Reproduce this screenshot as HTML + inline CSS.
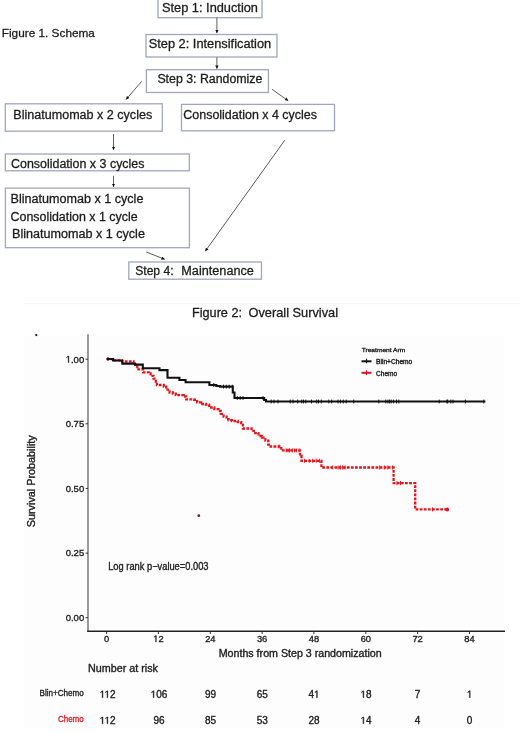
<!DOCTYPE html>
<html><head><meta charset="utf-8">
<style>
html,body{margin:0;padding:0;background:#fff;width:520px;height:733px;overflow:hidden}
svg{display:block;will-change:transform}
text{font-family:"Liberation Sans",sans-serif}
.c{fill:#1c1c1c;font-size:12px;stroke:#1c1c1c;stroke-width:0.28px}
.p{fill:#222;stroke:#222;stroke-width:0.35px}
.h1{fill-opacity:0;stroke-opacity:0}
</style></head><body>
<svg width="520" height="733" viewBox="0 0 520 733">
<defs>
<marker id="ah" viewBox="0 0 10 10" refX="10" refY="5" markerWidth="3.4" markerHeight="3.4" orient="auto" markerUnits="userSpaceOnUse"><path d="M0,0 L10,5 L0,10 z" fill="#111"/></marker>
</defs>
<rect x="24" y="336" width="480" height="392" fill="#fdfdfd"/>
<!-- FIGURE 1 -->
<g class="c">
<text x="1.8" y="36.9" textLength="93.1" lengthAdjust="spacingAndGlyphs" style="font-size:11.6px">Figure 1. Schema</text>
</g>
<g fill="none" stroke="#a0a7bc" stroke-width="1.3">
<rect x="158" y="-5" width="104" height="22.7"/>
<rect x="146" y="34.5" width="131" height="22.5"/>
<rect x="146.4" y="69.7" width="122" height="22.8"/>
<rect x="5.3" y="103.8" width="157" height="27.4"/>
<rect x="181.5" y="104.4" width="153" height="26.4"/>
<rect x="5.3" y="154" width="184" height="16.8"/>
<rect x="5.4" y="188.1" width="184" height="59.6"/>
<rect x="128.8" y="262" width="132.7" height="17.2"/>
</g>
<g stroke="#5e5e5e" stroke-width="1" fill="none" marker-end="url(#ah)">
<line x1="216.9" y1="17.7" x2="216.9" y2="33.2"/>
<line x1="216.9" y1="57.3" x2="216.9" y2="68.8"/>
<line x1="141.7" y1="81.3" x2="126" y2="99.6"/>
<line x1="271.9" y1="89.2" x2="288.3" y2="100.8"/>
<line x1="113.5" y1="134" x2="113.5" y2="150"/>
<line x1="113.5" y1="176" x2="113.5" y2="187"/>
<line x1="146.2" y1="252" x2="164.8" y2="259.3"/>
<line x1="284.8" y1="140.2" x2="205.2" y2="251.3"/>
</g>
<g class="c">
<text x="162.0" y="11.5" textLength="96.0" lengthAdjust="spacingAndGlyphs">Step 1: Induction</text>
<text x="148.7" y="47.5" textLength="122.5" lengthAdjust="spacingAndGlyphs">Step 2: Intensification</text>
<text x="157.4" y="83.2" textLength="105.0" lengthAdjust="spacingAndGlyphs">Step 3: Randomize</text>
<text x="13.3" y="119.4" textLength="138.9" lengthAdjust="spacingAndGlyphs">Blinatumomab x 2 cycles</text>
<text x="183.3" y="119.4" textLength="133.7" lengthAdjust="spacingAndGlyphs">Consolidation x 4 cycles</text>
<text x="11.0" y="167.6" textLength="133.5" lengthAdjust="spacingAndGlyphs">Consolidation x 3 cycles</text>
<text x="10.5" y="202.7" textLength="132.9" lengthAdjust="spacingAndGlyphs">Blinatumomab x 1 cycle</text>
<text x="10.5" y="221.2" textLength="127.1" lengthAdjust="spacingAndGlyphs">Consolidation x 1 cycle</text>
<text x="12.0" y="238.3" textLength="132.9" lengthAdjust="spacingAndGlyphs">Blinatumomab x 1 cycle</text>
<text x="135.2" y="275" textLength="38.4" lengthAdjust="spacingAndGlyphs">Step 4:</text><text x="181.3" y="275" textLength="72.6" lengthAdjust="spacingAndGlyphs">Maintenance</text>
<text x="192" y="317.3" textLength="50" lengthAdjust="spacingAndGlyphs" style="font-size:12.2px">Figure 2:</text><text x="248.5" y="317.3" textLength="89.5" lengthAdjust="spacingAndGlyphs" style="font-size:12.2px">Overall Survival</text>
</g>
<!-- FIGURE 2 -->
<line x1="24" y1="303.7" x2="520" y2="303.7" stroke="#f5f5f5" stroke-width="1"/>
<circle cx="36.3" cy="335.1" r="1.1" fill="#111"/>
<!-- axes -->
<line x1="88" y1="334.2" x2="88" y2="632" stroke="#808080" stroke-width="1.6"/>
<line x1="87.2" y1="631.2" x2="505" y2="631.2" stroke="#222" stroke-width="1.6"/>
<g stroke="#333" stroke-width="1">
<line x1="85.6" y1="359.2" x2="88" y2="359.2"/>
<line x1="85.6" y1="423.8" x2="88" y2="423.8"/>
<line x1="85.6" y1="488.4" x2="88" y2="488.4"/>
<line x1="85.6" y1="553.1" x2="88" y2="553.1"/>
<line x1="85.6" y1="617.7" x2="88" y2="617.7"/>
<line x1="106.6" y1="631.2" x2="106.6" y2="634"/>
<line x1="158.4" y1="631.2" x2="158.4" y2="634"/>
<line x1="210.3" y1="631.2" x2="210.3" y2="634"/>
<line x1="262.1" y1="631.2" x2="262.1" y2="634"/>
<line x1="313.9" y1="631.2" x2="313.9" y2="634"/>
<line x1="365.8" y1="631.2" x2="365.8" y2="634"/>
<line x1="417.6" y1="631.2" x2="417.6" y2="634"/>
<line x1="469.5" y1="631.2" x2="469.5" y2="634"/>
</g>
<g class="p" style="font-size:9.5px" text-anchor="end">
<text x="84.2" y="362.5"><tspan class="h1">1</tspan>.00</text>
<text x="84.2" y="427.1">0.75</text>
<text x="84.2" y="491.7">0.50</text>
<text x="84.2" y="556.4">0.25</text>
<text x="84.2" y="621">0.00</text>
</g>
<g class="p" style="font-size:9.3px" text-anchor="middle">
<text x="106.6" y="642">0</text>
<text x="158.4" y="642"><tspan class="h1">1</tspan>2</text>
<text x="210.3" y="642">24</text>
<text x="262.1" y="642">36</text>
<text x="313.9" y="642">48</text>
<text x="365.8" y="642">60</text>
<text x="417.6" y="642">72</text>
<text x="469.5" y="642">84</text>
</g>
<text class="p" x="218.7" y="656.5" style="font-size:10.3px" textLength="163" lengthAdjust="spacingAndGlyphs">Months from Step 3 randomization</text>
<text class="p" transform="translate(34.8,527.2) rotate(-90)" x="0" y="0" style="font-size:10.2px" textLength="91.9" lengthAdjust="spacingAndGlyphs">Survival Probability</text>
<text class="p" x="108.2" y="569.8" style="font-size:10.3px" textLength="100.3" lengthAdjust="spacingAndGlyphs">Log rank p&#8722;value=0.003</text>
<!-- legend -->
<text class="p" x="361.7" y="351.8" style="font-size:6px" textLength="43.5" lengthAdjust="spacingAndGlyphs">Treatment Arm</text>
<line x1="361.5" y1="361.3" x2="371.5" y2="361.3" stroke="#111" stroke-width="2"/>
<line x1="366.5" y1="358.7" x2="366.5" y2="363.3" stroke="#111" stroke-width="1.1"/>
<text class="p" x="376.1" y="363.7" style="font-size:6.4px" textLength="36.2" lengthAdjust="spacingAndGlyphs">Blin+Chemo</text>
<line x1="361.5" y1="372.8" x2="371.5" y2="372.8" stroke="#d8142a" stroke-width="2"/>
<line x1="366.5" y1="370.3" x2="366.5" y2="375.1" stroke="#e8141c" stroke-width="1.1"/>
<text class="p" x="376.1" y="376" style="font-size:6.4px" textLength="21" lengthAdjust="spacingAndGlyphs">Chemo</text>
<!-- curves -->

<path fill="none" stroke="#e8141c" stroke-width="2.3" stroke-dasharray="2.8 1.3" d="M106.6,359.2H113V360.4H122V361.5H133.5V364.6H137.3V369.4H143.1V372.3H148.8V373.5H150.6V375.8H153.5V378.7H155.8V381.5H156.9V385H163.8V386.7H166.2V389.6H169.6V392.5H172.9V393.7H175.8V395.2H183.8V396.5H186.2V399.4H194.2V399.8H197.1V402.3H201.2V404H205.8V404.6H209.2V407.5H214.4V409.2H218.5V411H220.8V413.8H223.6V416.7H226.5V419.2H228.5V420.2H231.9V421H237.7V422.1H241.2V425H242.9V428.5H251.5V430.8H253.8V433.1H258.5V436H261.9V437.7H265.4V440.6H268.3V444.6H270.6V446.5H281.3V450.4H300V455.6H301.5V460.8H321.4V467.5H393.6V483.1H415.2V509.4H447"/>
<path fill="none" stroke="#111" stroke-width="2.1" d="M106.6,359H113V360.5H122.3V363.6H135V364.6H142.8V368.2H159.5V370.1H167.5V377.7H179.4V380H185.6V382.3H209.4V385H216.3V386H220V386.6H232.8V392.5H234.5V398H264.2V400H266V401.5H485.4"/>
<!--censor-->
<path fill="none" stroke="#e8141c" stroke-width="1" d="M279,444.5V448.5M286.2,448.4V452.4M288.1,448.4V452.4M289.5,448.4V452.4M292.4,448.4V452.4M294.3,448.4V452.4M296.3,448.4V452.4M299.2,448.4V452.4M304.6,458.8V462.8M309.2,458.8V462.8M312.7,458.8V462.8M316.2,458.8V462.8M319.6,458.8V462.8M332.3,465.5V469.5M338.1,465.5V469.5M340.4,465.5V469.5M342.7,465.5V469.5M345,465.5V469.5M379.7,465.5V469.5M384.3,465.5V469.5M387.8,465.5V469.5M392.4,465.5V469.5M397,481.1V485.1M400.5,481.1V485.1M432.5,507.4V511.4"/>
<path fill="none" stroke="#111" stroke-width="1" d="M108,357.1V360.9M213.8,383.1V386.9M223.5,384.7V388.5M226.3,384.7V388.5M229.2,384.7V388.5M232.3,384.7V388.5M237.3,396.1V399.9M240.2,396.1V399.9M243,396.1V399.9M263,396.1V399.9M271.2,399.6V403.4M274,399.6V403.4M278,399.6V403.4M290.2,399.6V403.4M293,399.6V403.4M297.7,399.6V403.4M301.7,399.6V403.4M303.5,399.6V403.4M305.8,399.6V403.4M311.5,399.6V403.4M316.7,399.6V403.4M318.5,399.6V403.4M321.3,399.6V403.4M328.8,399.6V403.4M331.7,399.6V403.4M338,399.6V403.4M340.4,399.6V403.4M343.3,399.6V403.4M346.2,399.6V403.4M353.7,399.6V403.4M378.8,399.6V403.4M385.8,399.6V403.4M388,399.6V403.4M389.6,399.6V403.4M391.2,399.6V403.4M393.5,399.6V403.4M396.5,399.6V403.4M398.8,399.6V403.4M439.2,399.6V403.4M446.9,399.6V403.4M447.7,399.6V403.4M450.8,399.6V403.4M453,399.6V403.4M465.4,399.6V403.4M483.8,399.6V403.4"/>
<circle cx="447.2" cy="509.4" r="2" fill="#e0142a"/>
<circle cx="198.8" cy="515.7" r="1.4" fill="#8a1030"/>
<!-- risk table -->
<text class="p" x="88.1" y="672.1" style="font-size:10.2px" textLength="69.8" lengthAdjust="spacingAndGlyphs">Number at risk</text>
<text class="p" x="83.8" y="696.3" style="font-size:9.3px" text-anchor="end" textLength="44.2" lengthAdjust="spacingAndGlyphs">Blin+Chemo</text>
<text x="83.8" y="722.3" style="font-size:9.3px;fill:#e8141c;stroke:#e8141c;stroke-width:0.3px" text-anchor="end" textLength="25.9" lengthAdjust="spacingAndGlyphs">Chemo</text>
<g class="p" style="font-size:10px" text-anchor="middle">
<text x="107.6" y="697.7"><tspan class="h1">1</tspan><tspan class="h1">1</tspan>2</text>
<text x="159" y="697.7"><tspan class="h1">1</tspan>06</text>
<text x="210.5" y="697.7">99</text>
<text x="262.3" y="697.7">65</text>
<text x="314" y="697.7">4<tspan class="h1">1</tspan></text>
<text x="366" y="697.7"><tspan class="h1">1</tspan>8</text>
<text x="417.6" y="697.7">7</text>
<text x="469.6" y="697.7"><tspan class="h1">1</tspan></text>
<text x="107.6" y="723.8"><tspan class="h1">1</tspan><tspan class="h1">1</tspan>2</text>
<text x="159" y="723.8">96</text>
<text x="210.5" y="723.8">85</text>
<text x="262.3" y="723.8">53</text>
<text x="314" y="723.8">28</text>
<text x="366" y="723.8"><tspan class="h1">1</tspan>4</text>
<text x="417.6" y="723.8">4</text>
<text x="469.6" y="723.8">0</text>
</g>
<!--ones--><g fill="#222" stroke="#222" stroke-width="75.5"><path transform="translate(65.68,362.5) scale(0.004639,-0.004639)" d="M515,0L515,1237L197,1010L197,1180L530,1409L696,1409L696,0Z"/><path transform="translate(153.23,642) scale(0.004541,-0.004541)" d="M515,0L515,1237L197,1010L197,1180L530,1409L696,1409L696,0Z"/><path transform="translate(99.62,697.7) scale(0.004883,-0.004883)" d="M515,0L515,1237L197,1010L197,1180L530,1409L696,1409L696,0Z"/><path transform="translate(104.45,697.7) scale(0.004883,-0.004883)" d="M515,0L515,1237L197,1010L197,1180L530,1409L696,1409L696,0Z"/><path transform="translate(150.66,697.7) scale(0.004883,-0.004883)" d="M515,0L515,1237L197,1010L197,1180L530,1409L696,1409L696,0Z"/><path transform="translate(314.00,697.7) scale(0.004883,-0.004883)" d="M515,0L515,1237L197,1010L197,1180L530,1409L696,1409L696,0Z"/><path transform="translate(360.44,697.7) scale(0.004883,-0.004883)" d="M515,0L515,1237L197,1010L197,1180L530,1409L696,1409L696,0Z"/><path transform="translate(466.82,697.7) scale(0.004883,-0.004883)" d="M515,0L515,1237L197,1010L197,1180L530,1409L696,1409L696,0Z"/><path transform="translate(99.62,723.8) scale(0.004883,-0.004883)" d="M515,0L515,1237L197,1010L197,1180L530,1409L696,1409L696,0Z"/><path transform="translate(104.45,723.8) scale(0.004883,-0.004883)" d="M515,0L515,1237L197,1010L197,1180L530,1409L696,1409L696,0Z"/><path transform="translate(360.44,723.8) scale(0.004883,-0.004883)" d="M515,0L515,1237L197,1010L197,1180L530,1409L696,1409L696,0Z"/></g><!--/ones-->
</svg>
</body></html>
